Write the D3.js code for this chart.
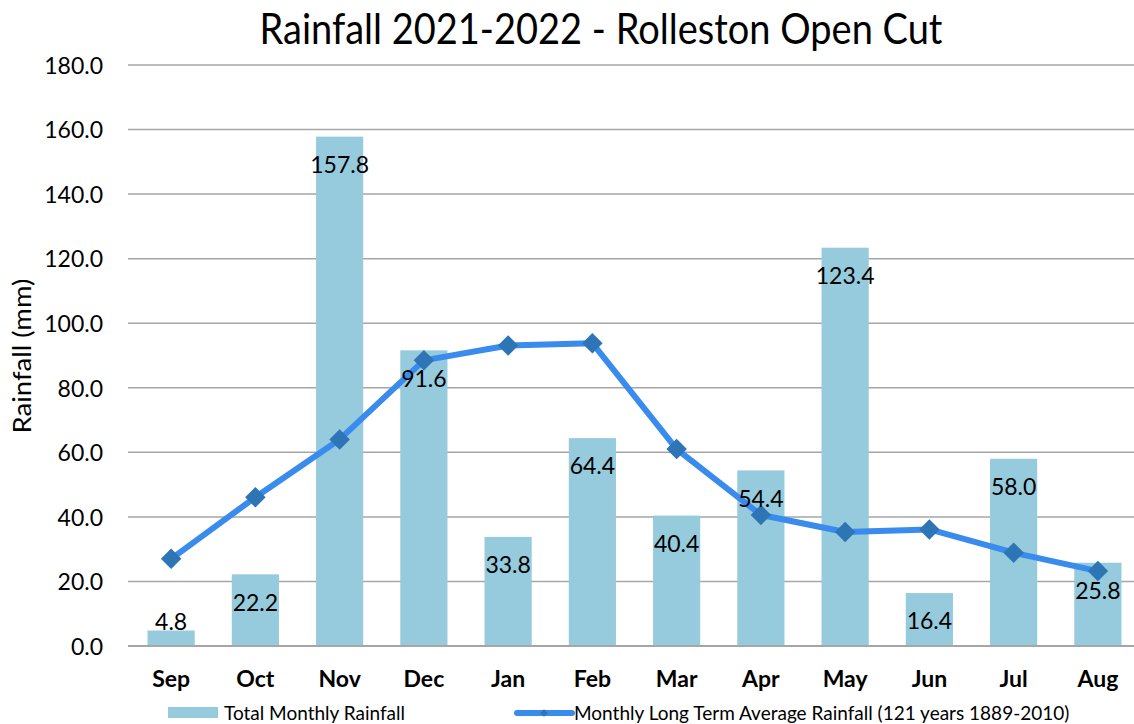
<!DOCTYPE html>
<html><head><meta charset="utf-8">
<script src="https://cdn.jsdelivr.net/npm/d3@7"></script>
<style>body{margin:0;background:#fff}svg{display:block}text{font-family:Lato,"Open Sans",sans-serif}</style>
</head><body>
<svg id="c" width="1134" height="724"></svg>
<script>
const months = ["Sep","Oct","Nov","Dec","Jan","Feb","Mar","Apr","May","Jun","Jul","Aug"];
const totalRain = [4.8,22.2,157.8,91.6,33.8,64.4,40.4,54.4,123.4,16.4,58.0,25.8];
const longTermAvg = [27.0,46.1,64.0,88.5,93.1,93.8,61.0,40.6,35.3,36.1,28.9,23.2];
const yTicks = [0,20,40,60,80,100,120,140,160,180];
const titleText = "Rainfall 2021-2022 - Rolleston Open Cut";
const yTitle = "Rainfall (mm)";
const legendBar = "Total Monthly Rainfall";
const legendLine = "Monthly Long Term Average Rainfall (121 years 1889-2010)";

const svg = d3.select("#c");
const pL = 129, pR = 1140, pT = 65, pB = 646;
const x = d3.scaleBand().domain(months).range([pL, pR]).paddingInner(0.44).paddingOuter(0.22);
const y = d3.scaleLinear().domain([0,180]).range([pB, pT]);

// gridlines
svg.append("g").selectAll("line").data(yTicks.filter(d=>d>0)).join("line")
  .attr("x1", pL-1).attr("x2", 1134).attr("y1", d=>y(d)).attr("y2", d=>y(d))
  .attr("stroke", "#A6A6A6").attr("stroke-width", 1.5);

// y axis labels
const yAxis = d3.axisLeft(y).tickValues(yTicks).tickFormat(d3.format(".1f")).tickSize(0).tickPadding(0);
const ya = svg.append("g").attr("transform", `translate(${pL-26},0)`).call(yAxis);
ya.select(".domain").remove();
ya.selectAll("text").attr("font-size", 23).attr("fill", "#000").attr("font-family", "Lato,'Open Sans',sans-serif").attr("dy", "0.36em");

// bars
svg.append("g").selectAll("rect").data(totalRain).join("rect")
  .attr("x", (d,i)=>x(months[i])).attr("width", x.bandwidth())
  .attr("y", d=>y(d)).attr("height", d=>pB - y(d))
  .attr("fill", "#95CBDD");

// x axis line
svg.append("line").attr("x1", pL-1).attr("x2", 1134).attr("y1", pB).attr("y2", pB)
  .attr("stroke", "#A6A6A6").attr("stroke-width", 2);

// x axis labels
const xAxis = d3.axisBottom(x).tickSize(0).tickPadding(0);
const xa = svg.append("g").attr("transform", `translate(0,${pB})`).call(xAxis);
xa.select(".domain").remove();
xa.selectAll("text").attr("font-size", 23).attr("font-weight", "bold").attr("fill", "#000")
  .attr("font-family", "Lato,'Open Sans',sans-serif").attr("dy", "0").attr("y", 41);

// line
const line = d3.line().x((d,i)=>x(months[i]) + x.bandwidth()/2).y(d=>y(d));
svg.append("path").datum(longTermAvg).attr("d", line).attr("fill", "none")
  .attr("stroke", "#3A8BEE").attr("stroke-width", 6).attr("stroke-linejoin", "round");
svg.append("g").selectAll("path").data(longTermAvg).join("path")
  .attr("d", d3.symbol().type(d3.symbolSquare).size(210))
  .attr("transform", (d,i)=>`translate(${x(months[i]) + x.bandwidth()/2},${y(d)}) rotate(45)`)
  .attr("fill", "#2E75B6");

// data labels
svg.append("g").selectAll("text").data(totalRain).join("text")
  .attr("x", (d,i)=>x(months[i]) + x.bandwidth()/2)
  .attr("y", d=>Math.min(y(d) + 28, pB - 24))
  .attr("dy", "0.36em").attr("text-anchor", "middle").attr("font-size", 23).attr("fill", "#000")
  .text(d=>d3.format(".1f")(d));

// title
svg.append("text").attr("transform", "translate(601,44) scale(1,1.1)").attr("text-anchor", "middle")
  .attr("font-size", 38).attr("fill", "#000").text(titleText);

// y title
svg.append("text").attr("transform", "translate(31,356) rotate(-90) scale(1.1,1)").attr("text-anchor", "middle")
  .attr("font-size", 25).attr("fill", "#000").text(yTitle);

// legend
const lg = svg.append("g");
lg.append("rect").attr("x", 168).attr("y", 707).attr("width", 50).attr("height", 11).attr("fill", "#95CBDD");
lg.append("text").attr("x", 224).attr("y", 713).attr("dy", "0.36em").attr("font-size", 19).attr("fill", "#000").text(legendBar);
lg.append("line").attr("x1", 517).attr("x2", 572).attr("y1", 713).attr("y2", 713).attr("stroke", "#3A8BEE").attr("stroke-width", 6).attr("stroke-linecap", "round");
lg.append("path").attr("d", d3.symbol().type(d3.symbolSquare).size(30)).attr("transform", "translate(544,713) rotate(45)").attr("fill", "#2E75B6");
lg.append("text").attr("x", 574).attr("y", 713).attr("dy", "0.36em").attr("font-size", 19).attr("fill", "#000").text(legendLine);
</script>
</body></html>
